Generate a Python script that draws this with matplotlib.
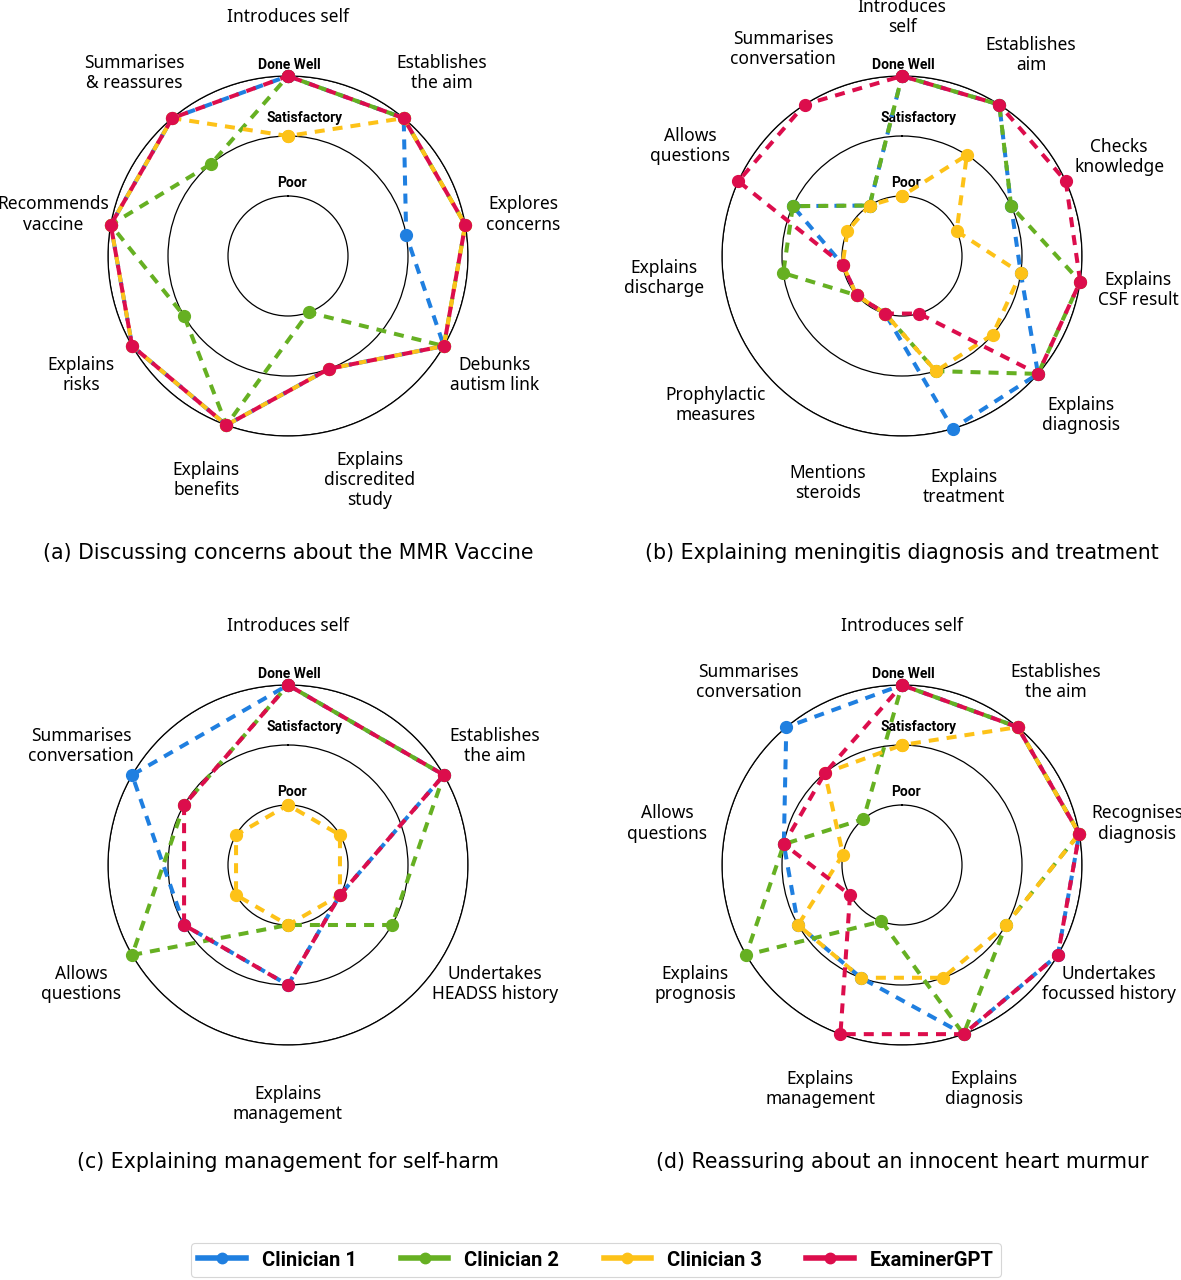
import matplotlib
matplotlib.use('Agg')
import matplotlib.pyplot as plt
import numpy as np
from matplotlib.lines import Line2D

plt.rcParams['lines.scale_dashes'] = False

series_names = ['Clinician 1', 'Clinician 2', 'Clinician 3', 'ExaminerGPT']
colors = ['#1f7fe0', '#66b022', '#fdc218', '#dc0d4c']
level_names = ['Poor', 'Satisfactory', 'Done Well']

# (a)
a_title = '(a) Discussing concerns about the MMR Vaccine'
a_categories = ['Introduces self', 'Establishes\nthe aim', 'Explores\nconcerns',
                'Debunks\nautism link', 'Explains\ndiscredited\nstudy', 'Explains\nbenefits',
                'Explains\nrisks', 'Recommends\nvaccine', 'Summarises\n& reassures']
a_clin1 = [3, 3, 2, 3, 2, 3, 3, 3, 3]
a_clin2 = [3, 3, 3, 3, 1, 3, 2, 3, 2]
a_clin3 = [2, 3, 3, 3, 2, 3, 3, 3, 3]
a_gpt = [3, 3, 3, 3, 2, 3, 3, 3, 3]

# (b)
b_title = '(b) Explaining meningitis diagnosis and treatment'
b_categories = ['Introduces\nself', 'Establishes\naim', 'Checks\nknowledge',
                'Explains\nCSF result', 'Explains\ndiagnosis', 'Explains\ntreatment',
                'Mentions\nsteroids', 'Prophylactic\nmeasures', 'Explains\ndischarge',
                'Allows\nquestions', 'Summarises\nconversation']
b_clin1 = [3, 3, 2, 2, 3, 3, 1, 1, 1, 2, 1]
b_clin2 = [3, 3, 2, 3, 3, 2, 1, 1, 2, 2, 1]
b_clin3 = [1, 2, 1, 2, 2, 2, 1, 1, 1, 1, 1]
b_gpt = [3, 3, 3, 3, 3, 1, 1, 1, 1, 3, 3]

# (c)
c_title = '(c) Explaining management for self-harm'
c_categories = ['Introduces self', 'Establishes\nthe aim', 'Undertakes\nHEADSS history',
                'Explains\nmanagement', 'Allows\nquestions', 'Summarises\nconversation']
c_clin1 = [3, 3, 1, 2, 2, 3]
c_clin2 = [3, 3, 2, 1, 3, 2]
c_clin3 = [1, 1, 1, 1, 1, 1]
c_gpt = [3, 3, 1, 2, 2, 2]

# (d)
d_title = '(d) Reassuring about an innocent heart murmur'
d_categories = ['Introduces self', 'Establishes\nthe aim', 'Recognises\ndiagnosis',
                'Undertakes\nfocussed history', 'Explains\ndiagnosis', 'Explains\nmanagement',
                'Explains\nprognosis', 'Allows\nquestions', 'Summarises\nconversation']
d_clin1 = [3, 3, 3, 3, 3, 2, 2, 2, 3]
d_clin2 = [3, 3, 3, 2, 3, 1, 3, 2, 1]
d_clin3 = [2, 3, 3, 2, 2, 2, 2, 1, 2]
d_gpt = [3, 3, 3, 3, 3, 3, 1, 2, 2]

W, H = 1181, 1280
fig = plt.figure(figsize=(W / 100, H / 100), dpi=100)

# label angle nudges (degrees) - layout only
b_nudge = [0, 0, 0, 0, 0.7, 1.4, 1.7, 2.3, 2.9, 3.0, 2.9]

panels = [
    (a_title, a_categories, [a_clin1, a_clin2, a_clin3, a_gpt], (288, 256), None),
    (b_title, b_categories, [b_clin1, b_clin2, b_clin3, b_gpt], (902, 256), b_nudge),
    (c_title, c_categories, [c_clin1, c_clin2, c_clin3, c_gpt], (288, 865), None),
    (d_title, d_categories, [d_clin1, d_clin2, d_clin3, d_gpt], (902, 865), None),
]

R = 180  # pixels for radius 3
label_font = 'Noto Sans'
dash_on, dash_off = 7.2, 5.8
period = dash_on + dash_off
level_offsets = [(4, 13), (17, 18), (1, 11)]  # pixels (dx, dy up)

for title, cats, series, (cx, cy), nudge in panels:
    ax = fig.add_axes([(cx - R) / W, 1 - (cy + R) / H, 2 * R / W, 2 * R / H],
                      projection='polar')
    ax.set_theta_zero_location('N')
    ax.set_theta_direction(-1)
    ax.set_ylim(0, 3)
    ax.set_yticks([1, 2, 3])
    ax.set_yticklabels([])
    ax.set_xticks([])
    ax.yaxis.grid(True, color='black', lw=0.9)
    ax.spines['polar'].set_color('black')
    ax.spines['polar'].set_linewidth(0.9)
    ax.patch.set_alpha(0)

    n = len(cats)
    theta = np.linspace(0, 2 * np.pi, n, endpoint=False)
    tc = np.append(theta, theta[0])
    for i, (vals, col) in enumerate(zip(series, colors)):
        v = np.append(np.array(vals, dtype=float), vals[0])
        ax.plot(tc, v, color=col, lw=2.9,
                linestyle=(i * period / 4.0, (dash_on, dash_off)),
                marker='o', ms=8.5, mec=col, mfc=col,
                clip_on=False, zorder=3 + i)

    if nudge is None:
        nudge = [0] * n
    for t, lab, nd in zip(theta, cats, nudge):
        ax.text(t + np.deg2rad(nd), 3.98, lab, ha='center', va='center', fontsize=12.5,
                family=label_font, linespacing=1.15, clip_on=False)

    for r, (name, (dx, dy)) in enumerate(zip(level_names, level_offsets), start=1):
        ax.annotate(name, xy=(0, r), xytext=(dx * 0.72, dy * 0.72),
                    textcoords='offset points', ha='center', va='center',
                    fontsize=10, fontweight='bold', family='Roboto',
                    zorder=2.5, annotation_clip=False)

    fig.text(cx / W, 1 - (cy + 297) / H, title, ha='center', va='center',
             fontsize=14.8, family='DejaVu Sans')

handles = [Line2D([0], [0], color=c, lw=4.0, marker='o', ms=7.5, mec=c, mfc=c)
           for c in colors]
leg = fig.legend(handles, series_names, loc='center', ncol=4,
                 bbox_to_anchor=(596 / W, 1 - 1260 / H),
                 prop={'family': 'Roboto', 'weight': 'bold', 'size': 14.5},
                 handlelength=2.35, handletextpad=0.8, columnspacing=2.2,
                 frameon=True, fancybox=True, edgecolor='#cccccc',
                 borderpad=0.35)
leg.get_frame().set_linewidth(0.8)

fig.savefig('out.png', dpi=100, facecolor='white')
